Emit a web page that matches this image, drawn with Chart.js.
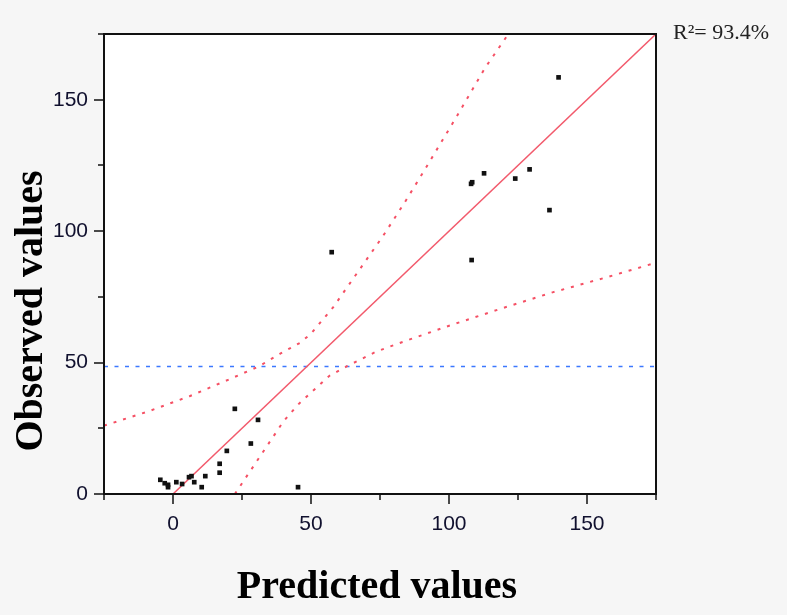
<!DOCTYPE html>
<html>
<head>
<meta charset="utf-8">
<script src="https://cdn.jsdelivr.net/npm/chart.js@4.4.0/dist/chart.umd.min.js"></script>
<style>
html, body { margin: 0; padding: 0; background: #f6f6f6; }
#wrap { width: 787px; height: 615px; }
</style>
</head>
<body>
<div id="wrap"><canvas id="chart"></canvas></div>
<script>
// observed vs predicted
const predicted = [-4.6, -3.0, -1.8, -1.8, 1.2, 3.3, 5.8, 6.7, 7.7, 10.4, 11.7, 16.9, 16.9, 19.5, 22.4, 28.2, 30.8, 45.3,
  57.5, 108.2, 108.0, 108.4, 112.7, 124.0, 129.2, 136.4, 139.7];
const observed = [5.4, 4.1, 3.5, 2.6, 4.5, 3.8, 6.4, 6.8, 4.5, 2.6, 6.8, 8.1, 11.5, 16.4, 32.4, 19.2, 28.2, 2.6,
  92.0, 89.0, 118.0, 118.6, 122.0, 120.0, 123.5, 108.0, 158.5];

// fitted line
const fitX = [0, 175];
const fitY = [0, 175];

// confidence band
const upperX = [-25, -9, 6, 19, 31, 39, 46, 50, 58, 67, 76, 84, 91, 103, 113, 121.5];
const upperY = [26, 31.4, 37.2, 43, 48.5, 53.5, 57.5, 61, 71, 84.5, 98, 111, 123, 144, 162, 175];
const lowerX = [22.4, 31.4, 40, 45.5, 56.6, 63.2, 73.7, 84.4, 100.3, 118.8, 137.5, 156.3, 175];
const lowerY = [0, 14.1, 27.6, 34.2, 44.9, 48.7, 54.2, 58.3, 64.1, 70.5, 76.7, 82.2, 88];

const meanX = [-25, 175];
const meanY = [48.5, 48.5];

const xTickLabels = [0, 50, 100, 150];
const yTickLabels = [0, 50, 100, 150];

const toPoints = (xs, ys) => xs.map((v, i) => ({ x: v, y: ys[i] }));

const decor = {
  id: 'decor',
  beforeDraw(chart) {
    const { ctx, chartArea: a } = chart;
    ctx.save();
    ctx.fillStyle = '#f6f6f6';
    ctx.fillRect(0, 0, chart.width, chart.height);
    ctx.fillStyle = '#ffffff';
    ctx.fillRect(a.left, a.top, a.right - a.left, a.bottom - a.top);
    ctx.restore();
  },
  afterDraw(chart) {
    const { ctx, chartArea: a, scales: { x, y } } = chart;
    ctx.save();
    ctx.strokeStyle = '#111';
    ctx.lineWidth = 2;
    ctx.strokeRect(a.left, a.top, a.right - a.left, a.bottom - a.top);

    ctx.lineWidth = 1.5;
    ctx.beginPath();
    x.ticks.forEach(t => {
      const px = Math.round(x.getPixelForValue(t.value));
      const len = xTickLabels.includes(t.value) ? 10 : 6;
      ctx.moveTo(px, a.bottom);
      ctx.lineTo(px, a.bottom + len);
    });
    y.ticks.forEach(t => {
      const py = Math.round(y.getPixelForValue(t.value));
      const len = yTickLabels.includes(t.value) ? 10 : 6;
      ctx.moveTo(a.left, py);
      ctx.lineTo(a.left - len, py);
    });
    ctx.stroke();

    ctx.fillStyle = '#000';
    ctx.font = 'bold 40px "Liberation Serif"';
    ctx.textAlign = 'center';
    ctx.textBaseline = 'alphabetic';
    ctx.fillText('Predicted values', 377, 598);
    ctx.save();
    ctx.translate(42, 311);
    ctx.rotate(-Math.PI / 2);
    ctx.fillText('Observed values', 0, 0);
    ctx.restore();

    ctx.fillStyle = '#222';
    ctx.font = '22px "Liberation Serif"';
    ctx.textAlign = 'left';
    ctx.fillText('R²= 93.4%', 673, 39);
    ctx.restore();
  }
};

new Chart(document.getElementById('chart'), {
  type: 'scatter',
  data: {
    datasets: [
      {
        data: toPoints(predicted, observed),
        pointStyle: 'rect',
        pointRadius: 3.3,
        backgroundColor: '#111',
        borderColor: '#111',
        borderWidth: 0
      },
      {
        data: toPoints(fitX, fitY),
        showLine: true,
        pointRadius: 0,
        borderColor: 'rgb(242, 90, 108)',
        borderWidth: 1.5
      },
      {
        data: toPoints(upperX, upperY),
        showLine: true,
        pointRadius: 0,
        borderColor: 'rgb(245, 80, 100)',
        borderWidth: 2,
        borderDash: [3, 7]
      },
      {
        data: toPoints(lowerX, lowerY),
        showLine: true,
        pointRadius: 0,
        borderColor: 'rgb(245, 80, 100)',
        borderWidth: 2,
        borderDash: [3, 7]
      },
      {
        data: toPoints(meanX, meanY),
        showLine: true,
        pointRadius: 0,
        borderColor: 'rgb(60, 120, 255)',
        borderWidth: 1.5,
        borderDash: [4, 6.5]
      }
    ]
  },
  options: {
    responsive: true,
    maintainAspectRatio: false,
    animation: false,
    events: [],
    layout: { padding: { top: 34, right: 131, left: 0, bottom: 0 } },
    plugins: {
      legend: { display: false },
      tooltip: { enabled: false }
    },
    scales: {
      x: {
        type: 'linear',
        min: -25,
        max: 175,
        grid: { display: false },
        border: { display: false },
        afterFit: s => { s.height = 121; },
        ticks: {
          stepSize: 25,
          autoSkip: false,
          maxRotation: 0,
          padding: 10,
          color: '#10102e',
          font: { family: '"Liberation Sans"', size: 21 },
          callback: v => xTickLabels.includes(v) ? String(v) : ''
        }
      },
      y: {
        type: 'linear',
        min: 0,
        max: 175,
        grid: { display: false },
        border: { display: false },
        afterFit: s => { s.width = 104; },
        ticks: {
          stepSize: 25,
          autoSkip: false,
          padding: 8,
          color: '#10102e',
          font: { family: '"Liberation Sans"', size: 21 },
          callback: v => yTickLabels.includes(v) ? String(v) : ''
        }
      }
    }
  },
  plugins: [decor]
});
</script>
</body>
</html>
